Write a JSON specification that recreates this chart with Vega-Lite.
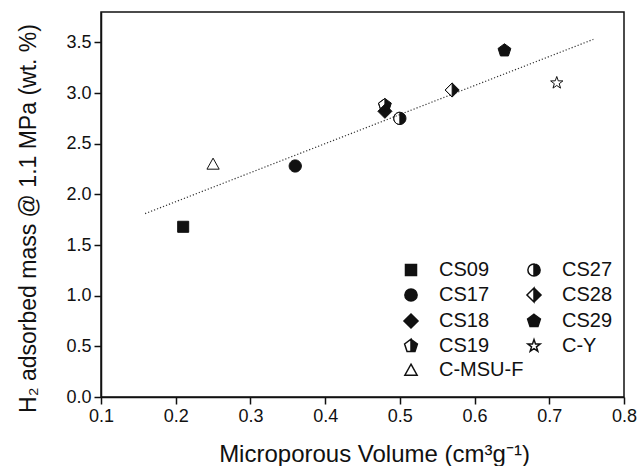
{
  "$schema": "https://vega.github.io/schema/vega-lite/v6.json",
  "width": 523,
  "height": 385,
  "autosize": {"type": "none"},
  "padding": {"left": 101, "top": 12, "right": 16, "bottom": 69},
  "background": "white",
  "config": {
    "view": {"stroke": "#111", "strokeWidth": 1.5},
    "font": "Liberation Sans",
    "axis": {
      "grid": false,
      "domainColor": "#111",
      "domainWidth": 1.5,
      "tickColor": "#111",
      "tickWidth": 1.5,
      "labelColor": "#111",
      "titleColor": "#111",
      "labelFont": "Liberation Sans",
      "titleFont": "Liberation Sans",
      "labelFontSize": 18,
      "titleFontSize": 23,
      "titleFontWeight": "normal"
    },
    "legend": {
      "labelFont": "Liberation Sans",
      "labelFontSize": 20,
      "labelColor": "#111"
    }
  },
  "datasets": {
    "points": [
      {"series": "CS09", "x": 0.21, "y": 1.68},
      {"series": "C-MSU-F", "x": 0.25, "y": 2.30},
      {"series": "CS17", "x": 0.36, "y": 2.28},
      {"series": "CS18", "x": 0.48, "y": 2.82},
      {"series": "CS19", "x": 0.48, "y": 2.88},
      {"series": "CS27", "x": 0.50, "y": 2.75},
      {"series": "CS28", "x": 0.57, "y": 3.03},
      {"series": "CS29", "x": 0.64, "y": 3.42},
      {"series": "C-Y", "x": 0.71, "y": 3.10}
    ],
    "fit": [
      {"x": 0.159, "y": 1.81},
      {"x": 0.759, "y": 3.53}
    ]
  },
  "layer": [
    {
      "data": {"name": "fit"},
      "mark": {"type": "line", "color": "#333", "strokeWidth": 1.2, "strokeDash": [1.2, 2]},
      "encoding": {
        "x": {
          "field": "x", "type": "quantitative",
          "scale": {"domain": [0.1, 0.8], "nice": false, "zero": false},
          "axis": {
            "title": "Microporous Volume (cm³g⁻¹)",
            "titleFontSize": 24,
            "titleX": 273,
            "values": [0.1, 0.15, 0.2, 0.25, 0.3, 0.35, 0.4, 0.45, 0.5, 0.55, 0.6, 0.65, 0.7, 0.75, 0.8],
            "labelExpr": "abs(datum.value*10 - round(datum.value*10)) < 0.01 ? format(datum.value, '.1f') : ''",
            "tickSize": {"condition": {"test": "abs(datum.value*10 - round(datum.value*10)) > 0.01", "value": 4}, "value": 7},
            "labelPadding": 3,
            "titlePadding": 17,
            "labelFlush": false
          }
        },
        "y": {
          "field": "y", "type": "quantitative",
          "scale": {"domain": [0, 3.8], "nice": false, "zero": false},
          "axis": {
            "title": "H₂ adsorbed mass @ 1.1 MPa (wt. %)",
            "titleY": 206,
            "values": [0, 0.25, 0.5, 0.75, 1, 1.25, 1.5, 1.75, 2, 2.25, 2.5, 2.75, 3, 3.25, 3.5, 3.75],
            "labelExpr": "abs(datum.value*2 - round(datum.value*2)) < 0.01 ? format(datum.value, '.1f') : ''",
            "tickSize": {"condition": {"test": "abs(datum.value*2 - round(datum.value*2)) > 0.01", "value": 4}, "value": 7},
            "labelPadding": 3,
            "titlePadding": 25,
            "labelFlush": false
          }
        }
      }
    },
    {
      "data": {"name": "points"},
      "mark": {"type": "point", "filled": true, "size": 150, "stroke": "#111", "strokeWidth": 1, "opacity": 1},
      "encoding": {
        "x": {"field": "x", "type": "quantitative"},
        "y": {"field": "y", "type": "quantitative"},
        "shape": {
          "field": "series", "type": "nominal",
          "scale": {
            "domain": ["CS09", "CS17", "CS18", "CS19", "C-MSU-F", "CS27", "CS28", "CS29", "C-Y"],
            "range": [
              "M-0.9,-0.9L0.9,-0.9L0.9,0.9L-0.9,0.9Z",
              "M0,-1A1,1,0,1,1,0,1A1,1,0,1,1,0,-1Z",
              "M0,-1.15L1.15,0L0,1.15L-1.15,0Z",
              "M0,-1.1L1.046,-0.34L0.647,0.89L-0.647,0.89L-1.046,-0.34ZM0,-1.1L-1.046,-0.34L-0.647,0.89L0,0.89Z",
              "M0,-0.95L1,0.85L-1,0.85Z",
              "M0,-1A1,1,0,1,1,0,1A1,1,0,1,1,0,-1ZM0,-1A1,1,0,0,0,0,1Z",
              "M0,-1.15L1.15,0L0,1.15L-1.15,0ZM0,-1.15L-1.15,0L0,1.15Z",
              "M0,-1.1L1.046,-0.34L0.647,0.89L-0.647,0.89L-1.046,-0.34Z",
              "M0,-1.05L0.247,-0.34L0.999,-0.324L0.399,0.13L0.617,0.849L0,0.42L-0.617,0.849L-0.399,0.13L-0.999,-0.324L-0.247,-0.34Z"
            ]
          },
          "legend": {
            "title": null,
            "orient": "none",
            "legendX": 300,
            "legendY": 248,
            "columns": 2,
            "symbolSize": 150,
            "labelOffset": 18,
            "rowPadding": 4,
            "columnPadding": -11,
            "labelLimit": 200,
            "encode": {"symbols": {"update": {"stroke": {"value": "#111"}, "strokeWidth": {"value": 1}}}}
          }
        },
        "fill": {
          "field": "series", "type": "nominal",
          "scale": {
            "domain": ["CS09", "CS17", "CS18", "CS19", "C-MSU-F", "CS27", "CS28", "CS29", "C-Y"],
            "range": ["#111", "#111", "#111", "#111", "white", "#111", "#111", "#111", "white"]
          },
          "legend": {
            "title": null,
            "orient": "none",
            "legendX": 300,
            "legendY": 248,
            "columns": 2,
            "symbolSize": 150,
            "labelOffset": 18,
            "rowPadding": 4,
            "columnPadding": -11,
            "labelLimit": 200,
            "encode": {"symbols": {"update": {"stroke": {"value": "#111"}, "strokeWidth": {"value": 1}}}}
          }
        }
      }
    }
  ]
}
